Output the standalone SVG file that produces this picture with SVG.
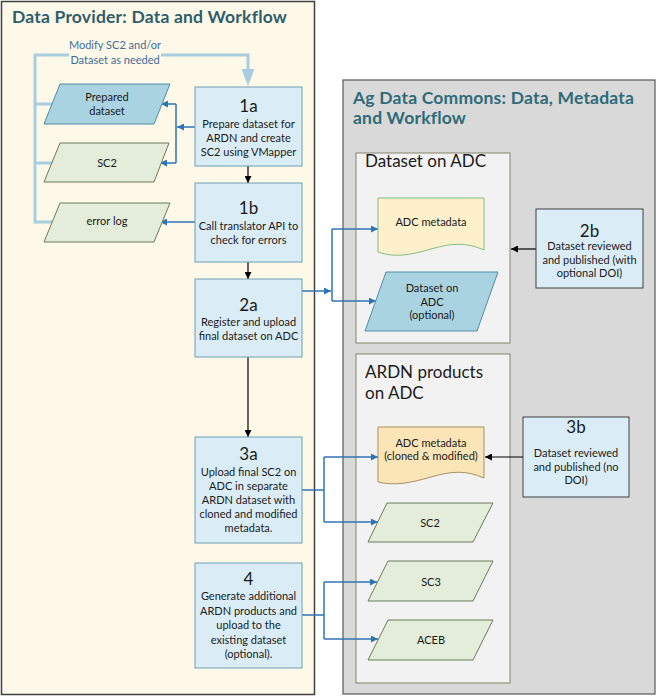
<svg xmlns="http://www.w3.org/2000/svg" width="657" height="697" viewBox="0 0 657 697">
<defs>
<style>
text{font-family:Lato,"Liberation Sans",sans-serif;fill:#1a1a1a}
.t{font-size:11px;text-anchor:middle}
.n{font-size:17px;text-anchor:middle}
.title{font-size:17.5px;font-weight:bold;letter-spacing:0.2px}
.sub{font-size:17px;fill:#1a1a1a}
.proc{fill:#daedf6;stroke:#6e9db3;stroke-width:1}
.proc2{fill:#daedf6;stroke:#404040;stroke-width:1}
.teal{fill:#a9d3e0;stroke:#4f8ea6;stroke-width:1}
.green{fill:#e4ecda;stroke:#6b7a5a;stroke-width:1}
.blue{fill:none;stroke:#2e75b6;stroke-width:1.5}
.black{fill:none;stroke:#000;stroke-width:1.2}
.fb{fill:none;stroke:#a8cde0;stroke-width:3}
</style>
<marker id="ab" viewBox="0 0 10 10" refX="10" refY="5" markerWidth="9" markerHeight="7" markerUnits="userSpaceOnUse" orient="auto"><path d="M0,0 L10,5 L0,10 Z" fill="#2e75b6"/></marker>
<marker id="ak" viewBox="0 0 10 10" refX="10" refY="5" markerWidth="9" markerHeight="7" markerUnits="userSpaceOnUse" orient="auto"><path d="M0,0 L10,5 L0,10 Z" fill="#000"/></marker>
</defs>

<g id="panel-provider">
<rect x="1.5" y="1.5" width="313" height="693" fill="#fdf8e7" stroke="#404040" stroke-width="1.5"/>
<text class="title" x="12" y="23" style="fill:#2f5d6b">Data Provider: Data and Workflow</text>
</g>

<g id="panel-adc">
<rect x="343" y="80" width="312" height="614" fill="#d9d9d9" stroke="#595959" stroke-width="1.2"/>
<text class="title" x="353" y="104" style="fill:#2e6b78">Ag Data Commons: Data, Metadata</text>
<text class="title" x="353" y="124" style="fill:#2e6b78">and Workflow</text>
</g>

<g id="box-dataset-on-adc">
<rect x="356" y="153" width="154" height="190" fill="#f2f2f2" stroke="#85856a" stroke-width="1"/>
<text class="sub" x="365" y="167">Dataset on ADC</text>
</g>

<g id="box-ardn-products">
<rect x="356" y="354" width="154" height="329" fill="#f2f2f2" stroke="#85856a" stroke-width="1"/>
<text class="sub" x="365" y="378">ARDN products</text>
<text class="sub" x="365" y="399">on ADC</text>
</g>

<g id="connectors">
<path class="fb" d="M52,222 H35 V55 H248 V72"/>
<path class="fb" d="M35,104 H52"/>
<path class="fb" d="M35,163 H52"/>
<path d="M241.5,69 L254.5,69 L248,86 Z" fill="#a8cde0"/>
<rect x="69" y="40" width="92" height="27" fill="#fdf8e7"/>
<text x="115" y="49" style="font-size:11px;text-anchor:middle;fill:#3d6f99">Modify SC2 and/or</text>
<text x="115" y="64" style="font-size:11px;text-anchor:middle;fill:#3d6f99">Dataset as needed</text>

<path class="blue" d="M195,127 H177" marker-end="url(#ab)"/>
<path class="blue" d="M176,104 V163"/>
<path class="blue" d="M176,104 H161" marker-end="url(#ab)"/>
<path class="blue" d="M176,163 H160" marker-end="url(#ab)"/>
<path class="blue" d="M195,222 H160" marker-end="url(#ab)"/>

<path class="black" d="M248,166 V183" marker-end="url(#ak)"/>
<path class="black" d="M248,262 V279" marker-end="url(#ak)"/>
<path class="black" d="M248,357 V437" marker-end="url(#ak)"/>

<path class="blue" d="M302,291 H331" marker-end="url(#ab)"/>
<path class="blue" d="M332,229 V301"/>
<path class="blue" d="M332,229 H378" marker-end="url(#ab)"/>
<path class="blue" d="M332,301 H376" marker-end="url(#ab)"/>

<path class="black" d="M536,249 H511" marker-end="url(#ak)"/>

<path class="blue" d="M302,490 H324"/>
<path class="blue" d="M324,457 V522"/>
<path class="blue" d="M324,457 H378" marker-end="url(#ab)"/>
<path class="blue" d="M324,522 H378" marker-end="url(#ab)"/>

<path class="black" d="M523,457 H485" marker-end="url(#ak)"/>

<path class="blue" d="M302,615 H324"/>
<path class="blue" d="M324,582 V639"/>
<path class="blue" d="M324,582 H377" marker-end="url(#ab)"/>
<path class="blue" d="M324,639 H378" marker-end="url(#ab)"/>
</g>

<g id="node-prepared-dataset">
<path class="teal" d="M60,84 H170 L154,124 H44 Z"/>
<text class="t" x="107" y="101">Prepared</text>
<text class="t" x="107" y="115">dataset</text>
</g>

<g id="node-sc2-left">
<path class="green" d="M60,143 H169 L154,182 H44 Z"/>
<text class="t" x="107" y="167">SC2</text>
</g>

<g id="node-error-log">
<path class="green" d="M60,203 H170 L154,242 H44 Z"/>
<text class="t" x="107" y="225">error log</text>
</g>

<g id="node-1a">
<rect class="proc" x="195" y="87" width="107" height="79"/>
<text class="n" x="248.5" y="112">1a</text>
<text class="t" x="248.5" y="128">Prepare dataset for</text>
<text class="t" x="248.5" y="142">ARDN and create</text>
<text class="t" x="248.5" y="156">SC2 using VMapper</text>
</g>

<g id="node-1b">
<rect class="proc" x="195" y="183" width="107" height="79"/>
<text class="n" x="248.5" y="214">1b</text>
<text class="t" x="248.5" y="230">Call translator API to</text>
<text class="t" x="248.5" y="244">check for errors</text>
</g>

<g id="node-2a">
<rect class="proc" x="195" y="279" width="107" height="78"/>
<text class="n" x="248.5" y="311">2a</text>
<text class="t" x="248.5" y="326">Register and upload</text>
<text class="t" x="248.5" y="340">final dataset on ADC</text>
</g>

<g id="node-3a">
<rect class="proc" x="195" y="437" width="107" height="106"/>
<text class="n" x="248.5" y="460">3a</text>
<text class="t" x="248.5" y="476">Upload final SC2 on</text>
<text class="t" x="248.5" y="490">ADC in separate</text>
<text class="t" x="248.5" y="504">ARDN dataset with</text>
<text class="t" x="248.5" y="518">cloned and modified</text>
<text class="t" x="248.5" y="532">metadata.</text>
</g>

<g id="node-4">
<rect class="proc" x="195" y="563" width="107" height="105"/>
<text class="n" x="248.5" y="585">4</text>
<text class="t" x="248.5" y="600">Generate additional</text>
<text class="t" x="248.5" y="614.5">ARDN products and</text>
<text class="t" x="248.5" y="629">upload to the</text>
<text class="t" x="248.5" y="643.5">existing dataset</text>
<text class="t" x="248.5" y="658">(optional).</text>
</g>

<g id="node-adc-metadata">
<path d="M378,198 H484 V250 C466,242 452,243 431,249 S395,258 378,252 Z" fill="#fdf0cb" stroke="#7fbf86" stroke-width="1"/>
<text class="t" x="431" y="226">ADC metadata</text>
</g>

<g id="node-dataset-on-adc">
<path class="teal" d="M386,272 H498 L477,331 H365 Z"/>
<text class="t" x="432" y="292">Dataset on</text>
<text class="t" x="432" y="305.5">ADC</text>
<text class="t" x="432" y="319">(optional)</text>
</g>

<g id="node-2b">
<rect class="proc2" x="536" y="209" width="107" height="79"/>
<text class="n" x="589.5" y="237">2b</text>
<text class="t" x="589.5" y="250">Dataset reviewed</text>
<text class="t" x="589.5" y="263.5">and published (with</text>
<text class="t" x="589.5" y="277">optional DOI)</text>
</g>

<g id="node-adc-metadata-cloned">
<path d="M378,427 H484 V478 C466,470 452,471 431,477 S395,486 378,482 Z" fill="#fbe5b6" stroke="#a39263" stroke-width="1"/>
<text class="t" x="431" y="447">ADC metadata</text>
<text class="t" x="431" y="460">(cloned &amp; modified)</text>
</g>

<g id="node-3b">
<rect class="proc2" x="523" y="417" width="106" height="80"/>
<text class="n" x="576" y="433">3b</text>
<text class="t" x="576" y="457">Dataset reviewed</text>
<text class="t" x="576" y="470.5">and published (no</text>
<text class="t" x="576" y="484">DOI)</text>
</g>

<g id="node-sc2-right">
<path class="green" d="M387,503 H493 L473,542 H368 Z"/>
<text class="t" x="430" y="527">SC2</text>
</g>

<g id="node-sc3">
<path class="green" d="M388,561 H493 L473,601 H368 Z"/>
<text class="t" x="431" y="586">SC3</text>
</g>

<g id="node-aceb">
<path class="green" d="M388,620 H493 L473,660 H368 Z"/>
<text class="t" x="431" y="644">ACEB</text>
</g>
</svg>
